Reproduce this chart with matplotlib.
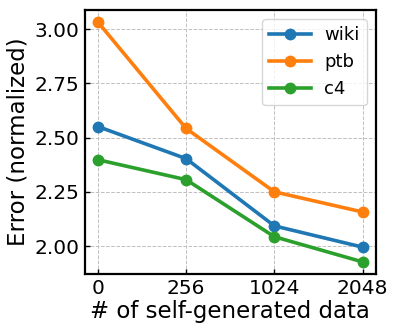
import matplotlib
matplotlib.use('Agg')
import matplotlib.pyplot as plt

# Data
x_labels = ['0', '256', '1024', '2048']
wiki = [2.551, 2.403, 2.093, 1.995]
ptb = [3.033, 2.542, 2.250, 2.157]
c4 = [2.398, 2.306, 2.043, 1.927]

fig, ax = plt.subplots(figsize=(3.99, 3.32), dpi=100)

xs = range(len(x_labels))
ax.plot(xs, wiki, '-o', color='#1f77b4', linewidth=2.6, markersize=7.5, label='wiki')
ax.plot(xs, ptb, '-o', color='#ff7f0e', linewidth=2.6, markersize=7.5, label='ptb')
ax.plot(xs, c4, '-o', color='#2ca02c', linewidth=2.6, markersize=7.5, label='c4')

ax.set_xticks(list(xs))
ax.set_xticklabels(x_labels)
ax.set_yticks([2.0, 2.25, 2.5, 2.75, 3.0])
ax.set_xlabel('# of self-generated data', fontsize=16.5, labelpad=1)
ax.set_ylabel('Error (normalized)', fontsize=16.5, labelpad=3)
ax.tick_params(direction='in', labelsize=14.5, width=1, pad=4)
ax.grid(True, linestyle='--', color='#c0c0c0', linewidth=0.7)
for s in ax.spines.values():
    s.set_linewidth(1.6)
ax.legend(fontsize=13, loc='upper right', handlelength=2.3, handletextpad=0.75)

fig.subplots_adjust(left=0.212, right=0.942, top=0.970, bottom=0.175)
fig.savefig('out.png', dpi=100)
